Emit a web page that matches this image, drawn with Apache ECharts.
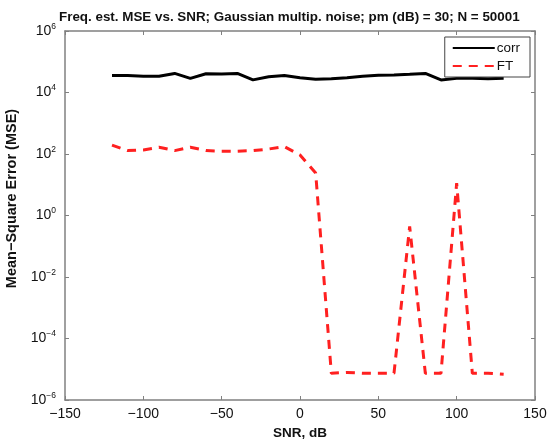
<!DOCTYPE html>
<html>
<head>
<meta charset="utf-8">
<script src="https://cdn.jsdelivr.net/npm/echarts@6/dist/echarts.min.js"></script>
<style>html,body{margin:0;padding:0;background:#fff}#c{width:554px;height:440px}</style>
</head>
<body>
<div id="c"></div>
<script>
const snr = [-120,-110,-100,-90,-80,-70,-60,-50,-40,-30,-20,-10,0,10,20,30,40,50,60,70,80,90,100,110,120,130];
const corrMSE = [35500,35500,34000,34000,41700,28800,40700,39800,41700,25700,32400,35500,30200,26900,28200,30200,33900,36300,37200,38900,41700,25700,28800,28800,28200,28800];
const ftMSE = [195,129,135,166,129,166,129,123,123,129,145,174,93,24,7.4e-6,7.9e-6,7.4e-6,7.4e-6,7.4e-6,0.44,7.4e-6,7.4e-6,11.2,7.4e-6,7.4e-6,6.9e-6];
const xTicks = [-150,-100,-50,0,50,100,150];
const titleText = 'Freq. est. MSE vs. SNR; Gaussian multip. noise; pm (dB) = 30; N = 50001';

const font = '"Liberation Sans", Arial, Helvetica, sans-serif';
const chart = echarts.init(document.getElementById('c'), null, {renderer: 'canvas'});
const pair = (xs, ys) => xs.map((x, i) => [x, ys[i]]);
const axisCol = '#808080';
function ylab(v) {
  const e = Math.round(Math.log10(v));
  return '{b|10}{s|' + String(e).replace('-', '\u2212') + '}';
}
chart.setOption({
  animation: false,
  backgroundColor: '#fff',
  title: {
    text: titleText, left: 54, top: 6,
    textStyle: {fontFamily: font, fontSize: 13.4, fontWeight: 'bold', color: '#111'}
  },
  grid: {left: 65, right: 19, top: 31, bottom: 40, containLabel: false, outerBoundsMode: 'none'},
  legend: {
    orient: 'vertical', right: 24, top: 37,
    backgroundColor: '#fff', borderColor: '#444', borderWidth: 1,
    padding: [4, 10, 4, 7], itemGap: 4, itemWidth: 42, itemHeight: 14,
    itemStyle: {opacity: 0},
    textStyle: {fontFamily: font, fontSize: 13.5, color: '#111', padding: [0,0,0,-3]},
    data: ['corr', 'FT']
  },
  xAxis: [{
    type: 'value', min: -150, max: 150, interval: 50,
    name: 'SNR, dB', nameLocation: 'middle', nameGap: 21,
    nameTextStyle: {fontFamily: font, fontSize: 13.5, fontWeight: 'bold', color: '#111'},
    axisLine: {onZero: false, lineStyle: {color: axisCol, width: 1.5}},
    axisTick: {inside: true, length: 4, lineStyle: {color: axisCol}},
    axisLabel: {fontFamily: font, fontSize: 14, color: '#111', margin: 7,
      formatter: v => String(v).replace('-', '\u2212')},
    splitLine: {show: false}
  }, {
    type: 'value', min: -150, max: 150, interval: 50, position: 'top',
    axisLine: {onZero: false, lineStyle: {color: axisCol, width: 1.5}},
    axisTick: {inside: true, length: 4, lineStyle: {color: axisCol}},
    axisLabel: {show: false}, splitLine: {show: false}
  }],
  yAxis: [{
    type: 'log', logBase: 10, min: 1e-6, max: 1e6, interval: 2,
    name: 'Mean\u2212Square Error (MSE)', nameLocation: 'middle', nameGap: 42,
    nameTextStyle: {fontFamily: font, fontSize: 14.5, fontWeight: 'bold', color: '#111', padding: [0, 0, 0, 34]},
    axisLine: {show: true, onZero: false, lineStyle: {color: axisCol, width: 1.5}},
    axisTick: {show: true, inside: true, length: 4, lineStyle: {color: axisCol}},
    minorTick: {show: false},
    axisLabel: {
      margin: 9, formatter: ylab,
      rich: {
        b: {fontFamily: font, fontSize: 14, color: '#111'},
        s: {fontFamily: font, fontSize: 8.5, color: '#111', verticalAlign: 'top', padding: [0, 0, 9, 0]}
      }
    },
    splitLine: {show: false}
  }, {
    type: 'log', logBase: 10, min: 1e-6, max: 1e6, interval: 2, position: 'right',
    axisLine: {show: true, onZero: false, lineStyle: {color: axisCol, width: 1.5}},
    axisTick: {show: true, inside: true, length: 4, lineStyle: {color: axisCol}},
    axisLabel: {show: false}, splitLine: {show: false}
  }],
  series: [{
    name: 'corr', type: 'line', data: pair(snr, corrMSE), symbol: 'none',
    lineStyle: {color: '#000', width: 3}, itemStyle: {color: '#000'}
  }, {
    name: 'FT', type: 'line', data: pair(snr, ftMSE), symbol: 'none',
    lineStyle: {color: '#ff2020', width: 3, type: [9, 7]}, itemStyle: {color: '#ff2020'}
  }]
});
</script>
</body>
</html>
